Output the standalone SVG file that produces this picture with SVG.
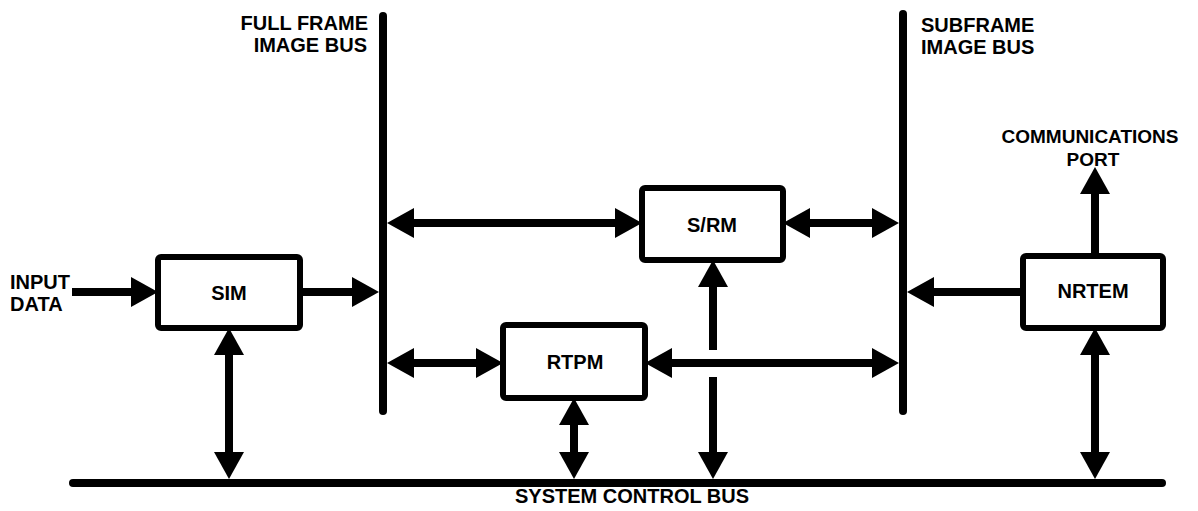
<svg xmlns="http://www.w3.org/2000/svg" width="1198" height="511" viewBox="0 0 1198 511">
<style>
.t{font-family:"Liberation Sans",Arial,sans-serif;font-weight:bold;font-size:20px;fill:#000}
.s{font-size:19px}
.m{text-anchor:middle}
.e{text-anchor:end}
.box{fill:#fff;stroke:#000;stroke-width:6;stroke-linejoin:round}
.bus{stroke:#000;stroke-width:8;stroke-linecap:round;fill:none}
.c{stroke:#000;stroke-width:8;fill:none}
.one{marker-end:url(#ah)}
.two{marker-start:url(#ah);marker-end:url(#ah)}
</style>
<defs>
<marker id="ah" viewBox="0 0 27 30" markerWidth="27" markerHeight="30" refX="1" refY="15" markerUnits="userSpaceOnUse" orient="auto-start-reverse">
<path d="M0,0 L27,15 L0,30 z" fill="#000"/>
</marker>
</defs>
<rect width="1198" height="511" fill="#fff"/>
<g id="buses">
<line class="bus" x1="383" y1="16" x2="383" y2="411"/>
<line class="bus" x1="903" y1="14" x2="903" y2="411"/>
<line class="bus" x1="73" y1="483" x2="1162" y2="483"/>
<text class="t e" x="368" y="30">FULL FRAME</text>
<text class="t e" x="367" y="52">IMAGE BUS</text>
<text class="t" x="921" y="32">SUBFRAME</text>
<text class="t" x="921" y="54">IMAGE BUS</text>
<text class="t" x="515" y="503">SYSTEM CONTROL BUS</text>
</g>
<g id="connectors">
<line class="c one" x1="72" y1="292" x2="132" y2="292"/>
<line class="c one" x1="300" y1="292" x2="353" y2="292"/>
<line class="c two" x1="413" y1="223" x2="616" y2="223"/>
<line class="c two" x1="809" y1="223" x2="873" y2="223"/>
<line class="c two" x1="413" y1="363" x2="477" y2="363"/>
<line class="c two" x1="671" y1="363" x2="873" y2="363"/>
<line class="c one" x1="713" y1="350" x2="713" y2="286"/>
<line class="c one" x1="713" y1="377" x2="713" y2="453"/>
<line class="c two" x1="229" y1="354" x2="229" y2="453"/>
<line class="c two" x1="574" y1="424" x2="574" y2="453"/>
<line class="c two" x1="1095" y1="354" x2="1095" y2="453"/>
<line class="c one" x1="1023" y1="292" x2="933" y2="292"/>
<line class="c one" x1="1095" y1="256" x2="1095" y2="193"/>
</g>
<g id="input">
<text class="t" x="10" y="289">INPUT</text>
<text class="t" x="10" y="311">DATA</text>
</g>
<g id="comm">
<text class="t s m" x="1090" y="143">COMMUNICATIONS</text>
<text class="t s m" x="1093" y="166">PORT</text>
</g>
<g id="sim">
<rect class="box" x="158" y="257" width="142" height="71" rx="3"/>
<text class="t m" x="229" y="300">SIM</text>
</g>
<g id="srm">
<rect class="box" x="642" y="188" width="141" height="72" rx="3"/>
<text class="t m" x="712" y="232">S/RM</text>
</g>
<g id="rtpm">
<rect class="box" x="503" y="325" width="142" height="73" rx="3"/>
<text class="t m" x="575" y="369">RTPM</text>
</g>
<g id="nrtem">
<rect class="box" x="1023" y="256" width="140" height="72" rx="3"/>
<text class="t m" x="1093" y="298">NRTEM</text>
</g>
</svg>
